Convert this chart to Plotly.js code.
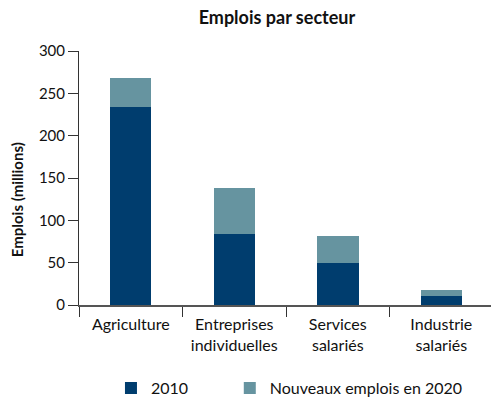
<!DOCTYPE html>
<html><head><meta charset="utf-8">
<script src="https://cdn.plot.ly/plotly-3.0.1.min.js"></script>
<style>html,body{margin:0;padding:0;background:#fff}#chart{width:491px;height:401px}</style>
</head><body><div id="chart"></div>
<script>
const categories = ["Agriculture", "Entreprises<br>individuelles", "Services<br>salariés", "Industrie<br>salariés"];
const emplois2010 = [233.5, 84, 49.5, 10.5];
const nouveaux2020 = [34.5, 54, 32, 7];
const seriesNames = ["2010", "Nouveaux emplois en 2020"];
const yTicks = [0, 50, 100, 150, 200, 250, 300];

const FONT = "Lato, 'Open Sans', sans-serif";
const traces = [
  {type: "bar", x: categories, y: emplois2010, name: seriesNames[0], marker: {color: "#003d6e"}, legend: "legend"},
  {type: "bar", x: categories, y: nouveaux2020, name: seriesNames[1], marker: {color: "#6694a0"}, legend: "legend2"}
];
const legendBase = {orientation: "h", xref: "container", yref: "container", xanchor: "left",
           y: 0.032, yanchor: "middle", font: {family: FONT, size: 16, color: "#111"}};
const layout = {
  width: 491, height: 401,
  margin: {l: 79, r: 0, t: 51, b: 96},
  barmode: "stack", bargap: 0.6,
  paper_bgcolor: "#fff", plot_bgcolor: "#fff",
  font: {family: FONT, size: 15, color: "#111"},
  showlegend: true,
  title: {text: "<b>Emplois par secteur</b>", font: {family: FONT, size: 18, color: "#111"},
          xref: "container", x: 0.564, xanchor: "center", yref: "container", y: 0.955, yanchor: "middle"},
  xaxis: {type: "category", range: [-0.5, 3.48], tickson: "boundaries", ticks: "outside", ticklen: 10,
          tickcolor: "#333", showline: true, linecolor: "#555", linewidth: 1.5, showgrid: false,
          ticklabelstandoff: 4,
          tickfont: {family: FONT, size: 16, color: "#111"}, fixedrange: true},
  yaxis: {range: [0, 300], tickvals: yTicks, ticks: "outside", ticklen: 10, tickcolor: "#333",
          showline: true, linecolor: "#333", linewidth: 1, showgrid: false, zeroline: false,
          tickfont: {family: FONT, size: 15, color: "#111"}, fixedrange: true},
  annotations: [{text: "<b>Emplois (millions)</b>", textangle: -90, xref: "paper", yref: "paper",
                 x: -0.150, y: 0.413, xanchor: "center", yanchor: "middle", showarrow: false,
                 font: {family: FONT, size: 15, color: "#111"}}],
  legend: Object.assign({}, legendBase, {x: 0.226}),
  legend2: Object.assign({}, legendBase, {x: 0.468})
};
Plotly.newPlot("chart", traces, layout, {staticPlot: true, displayModeBar: false});
</script></body></html>
